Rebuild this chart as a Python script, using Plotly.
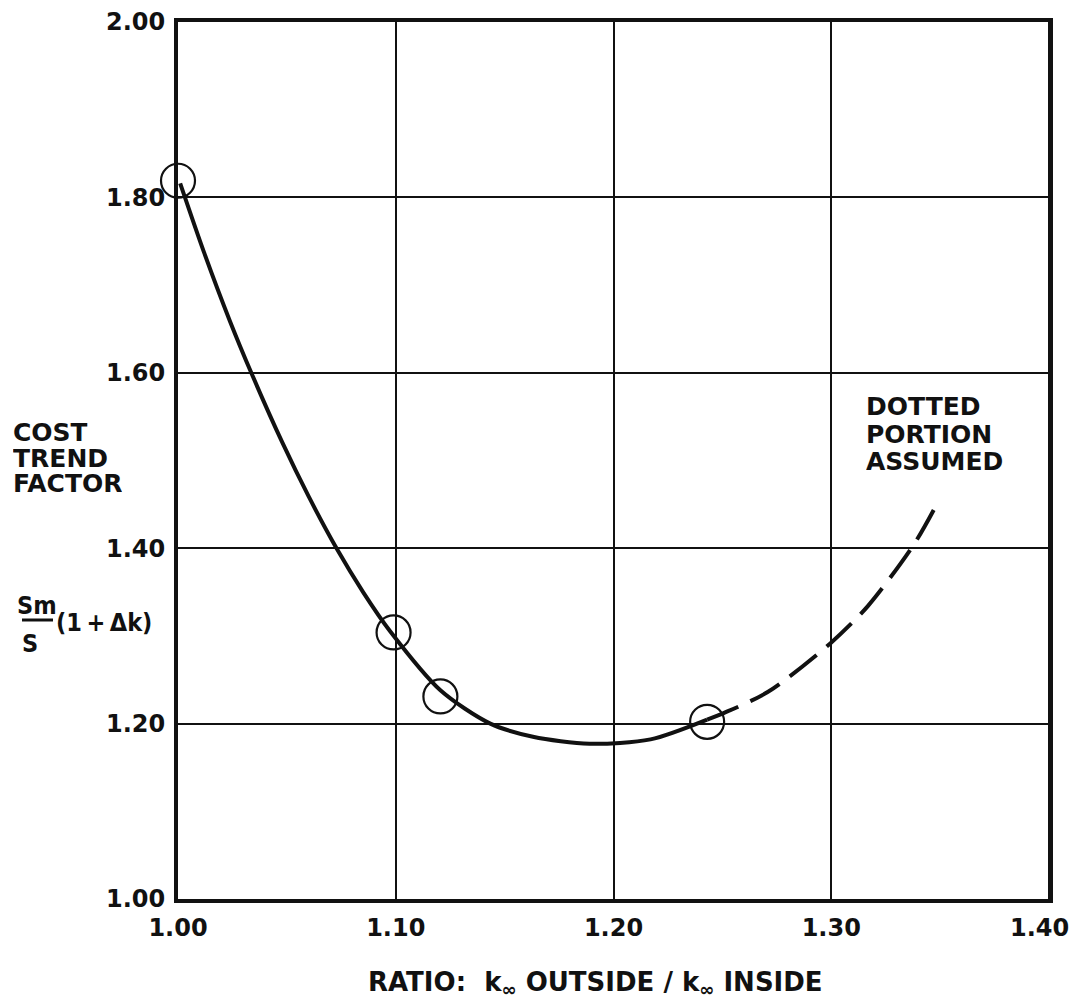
import plotly.graph_objects as go

# Cost trend factor vs. k-infinity ratio (outside / inside)
measured_ratio = [1.000, 1.099, 1.1205, 1.243]
measured_factor = [1.819, 1.304, 1.231, 1.202]

# Faired curve through the measured points (solid part)
curve_ratio = [1.001, 1.012, 1.024, 1.034, 1.048, 1.060, 1.073, 1.085,
               1.0975, 1.1205, 1.1434, 1.163, 1.189, 1.217, 1.243]
curve_factor = [1.816, 1.737, 1.658, 1.598, 1.520, 1.459, 1.399, 1.350,
                1.305, 1.238, 1.200, 1.185, 1.177, 1.182, 1.2045]

# Assumed extension of the curve (dashed part)
assumed_ratio = [1.243, 1.2506, 1.2708, 1.2998, 1.3168, 1.338, 1.3494]
assumed_factor = [1.2045, 1.212, 1.236, 1.292, 1.334, 1.4045, 1.4545]

x_ticks = [1.00, 1.10, 1.20, 1.30, 1.40]
x_tick_text = ["1.00", "1.10", "1.20", "1.30", "1.40"]
y_ticks = [1.00, 1.20, 1.40, 1.60, 1.80, 2.00]
y_tick_text = ["1.00", "1.20", "1.40", "1.60", "1.80", "2.00"]

W, H = 1078, 1002
ML, MR, MT, MB = 178, 29, 22, 103
PW, PH = W - ML - MR, H - MT - MB

FONT = "DejaVu Sans"
CONDENSED = "DejaVu Sans Condensed, DejaVu Sans"
INK = "#111111"


def px(xp):
    return (xp - ML) / PW


def py(yp):
    return (H - MB - yp) / PH


fig = go.Figure()

fig.add_trace(go.Scatter(
    x=curve_ratio, y=curve_factor, mode="lines",
    line=dict(color=INK, width=4, shape="spline", smoothing=0.8),
    hoverinfo="skip", showlegend=False,
))
fig.add_trace(go.Scatter(
    x=assumed_ratio, y=assumed_factor, mode="lines",
    line=dict(color=INK, width=4, shape="spline", smoothing=0.8, dash="34px,13px"),
    hoverinfo="skip", showlegend=False,
))
fig.add_trace(go.Scatter(
    x=measured_ratio, y=measured_factor, mode="markers",
    marker=dict(symbol="circle-open", size=34, color=INK, line=dict(width=2.2, color=INK)),
    cliponaxis=False, showlegend=False,
))

tick_font = dict(family=FONT, size=24, color=INK, weight="bold")
axis_common = dict(
    showgrid=True, gridcolor=INK, gridwidth=2,
    showline=True, linecolor=INK, linewidth=4, mirror=True,
    zeroline=False, ticks="", tickfont=tick_font,
    automargin=False, ticklabelstandoff=4,
)

# The last x label sits a little inside the frame, so it is placed as an annotation
fig.update_xaxes(range=[1.0, 1.4], tickvals=x_ticks[:-1], ticktext=x_tick_text[:-1],
                 **axis_common)
fig.update_yaxes(range=[1.0, 2.0], tickvals=y_ticks, ticktext=y_tick_text, **axis_common)
# grid line for the last x tick position (frame edge)
fig.add_vline(x=x_ticks[-1], line=dict(color=INK, width=2))

label_font = dict(family=FONT, size=25, color=INK, weight="bold")
frac_font = dict(family=CONDENSED, size=25, color=INK, weight="bold")
annotations = []

annotations.append(dict(x=x_ticks[-1], xref="x", y=0, yref="paper", text=x_tick_text[-1],
                        showarrow=False, xanchor="center", yanchor="top",
                        xshift=-10, yshift=-13, font=tick_font))

# Y-axis title block
for text, yc in [("COST", 430), ("TREND", 456), ("FACTOR", 481)]:
    annotations.append(dict(x=px(11), y=py(yc + 2), xref="paper", yref="paper",
                            text=text, showarrow=False, xanchor="left", yanchor="middle",
                            height=22, font=label_font))
annotations.append(dict(x=px(37), y=py(605), xref="paper", yref="paper", text="Sm",
                        showarrow=False, xanchor="center", yanchor="middle",
                        height=24, font=frac_font))
annotations.append(dict(x=px(30), y=py(643), xref="paper", yref="paper", text="S",
                        showarrow=False, xanchor="center", yanchor="middle",
                        height=24, font=frac_font))
annotations.append(dict(x=px(54), y=py(622), xref="paper", yref="paper",
                        text="(1\u2009+\u2009Δk)",
                        showarrow=False, xanchor="left", yanchor="middle", font=frac_font))

# Note on the assumed part of the curve
for text, yc in [("DOTTED", 404), ("PORTION", 432), ("ASSUMED", 459)]:
    annotations.append(dict(x=px(864), y=py(yc + 2), xref="paper", yref="paper",
                            text=text, showarrow=False, xanchor="left", yanchor="middle",
                            height=24, font=label_font))

# X-axis title
annotations.append(dict(x=px(595), y=py(983), xref="paper", yref="paper",
                        text="RATIO:  k<sub>∞</sub> OUTSIDE / k<sub>∞</sub> INSIDE",
                        showarrow=False, xanchor="center", yanchor="middle",
                        font=dict(family=FONT, size=26, color=INK, weight="bold")))

fig.update_layout(
    width=W, height=H,
    margin=dict(l=ML, r=MR, t=MT, b=MB, autoexpand=False),
    paper_bgcolor="white", plot_bgcolor="white",
    annotations=annotations,
)
fig.add_shape(type="line", xref="paper", yref="paper",
              x0=px(22), x1=px(53), y0=py(620), y1=py(620),
              line=dict(color=INK, width=3))

fig.write_html("out.html")
